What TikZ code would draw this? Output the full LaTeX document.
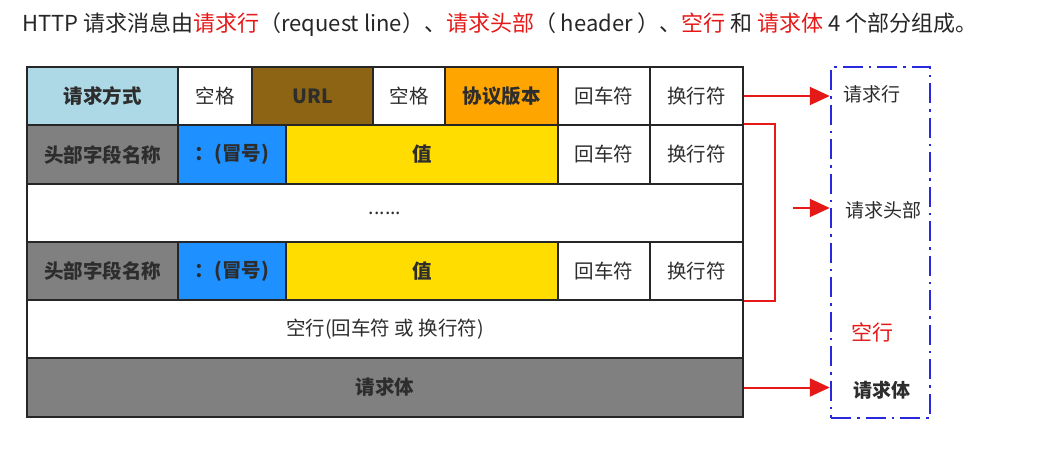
\documentclass[tikz,border=0pt]{standalone}
\usepackage{fontspec}
\setmainfont{Noto Sans CJK SC}
\usetikzlibrary{arrows.meta}
\definecolor{cLblue}{RGB}{173,216,230}
\definecolor{cBrown}{RGB}{140,100,20}
\definecolor{cOrange}{RGB}{255,165,0}
\definecolor{cGrey}{RGB}{128,128,128}
\definecolor{cBlue}{RGB}{30,144,255}
\definecolor{cYellow}{RGB}{255,221,0}
\definecolor{cRed}{RGB}{230,25,25}
\definecolor{cBox}{RGB}{40,40,220}
\definecolor{cText}{RGB}{45,45,45}
\newcommand\mkcell[7]{%
  \node[cell, fill=#6, minimum width={(#4)-(#2)}, minimum height={(#5)-(#3)}]
    (#1) at ({((#2)+(#4))/2},{((#3)+(#5))/2}) {#7};}
\begin{document}
\begin{tikzpicture}[x=1pt,y=-1pt,
  cell/.style={draw=black!85, line width=1.6pt, inner sep=0pt, text=cText,
    font=\fontsize{19.5}{22}\selectfont},
  arr/.style={draw=cRed, line width=2pt, -{Triangle[length=20pt,width=18pt]}},
  bracketline/.style={draw=cRed, line width=2pt},
  dashbox/.style={draw=cBox, line width=2.4pt,
    dash pattern=on 20pt off 6pt on 2.5pt off 6pt},
  lbl/.style={text=cText, font=\fontsize{19}{22}\selectfont, inner sep=0pt},
  title/.style={font=\fontsize{22}{26}\selectfont, inner sep=0pt, text=black!85}]
\useasboundingbox (0,0) rectangle (1051,464);
\fill[white] (0,0) rectangle (1051,464);
% title
\node[title, anchor=base west] (ttl) at (22,31)
  {HTTP 请求消息由\textcolor{cRed}{请求行}（request line）、\textcolor{cRed}{请求头部}（ header ）、\textcolor{cRed}{空行} 和 \textcolor{cRed}{请求体} 4 个部分组成。};
% row 1
\mkcell{ra}{27}{67}{178}{125}{cLblue}{\bfseries 请求方式}
\mkcell{rb}{178}{67}{252}{125}{white}{空格}
\mkcell{rc}{252}{67}{373}{125}{cBrown}{\bfseries URL}
\mkcell{rd}{373}{67}{445}{125}{white}{空格}
\mkcell{re}{445}{67}{558}{125}{cOrange}{\bfseries 协议版本}
\mkcell{rf}{558}{67}{650}{125}{white}{回车符}
\mkcell{rg}{650}{67}{743}{125}{white}{换行符}
% row 2
\mkcell{ha}{27}{125}{178}{184}{cGrey}{\bfseries 头部字段名称}
\mkcell{hb}{178}{125}{286}{184}{cBlue}{\bfseries ：(冒号)}
\mkcell{hc}{286}{125}{558}{184}{cYellow}{\bfseries 值}
\mkcell{hd}{558}{125}{650}{184}{white}{回车符}
\mkcell{he}{650}{125}{743}{184}{white}{换行符}
% row 3
\mkcell{dots}{27}{184}{743}{242}{white}{......}
% row 4
\mkcell{ka}{27}{242}{178}{300}{cGrey}{\bfseries 头部字段名称}
\mkcell{kb}{178}{242}{286}{300}{cBlue}{\bfseries ：(冒号)}
\mkcell{kc}{286}{242}{558}{300}{cYellow}{\bfseries 值}
\mkcell{kd}{558}{242}{650}{300}{white}{回车符}
\mkcell{ke}{650}{242}{743}{300}{white}{换行符}
% row 5
\mkcell{blank}{27}{300}{743}{358}{white}{空行(回车符 或 换行符)}
% row 6
\mkcell{body}{27}{358}{743}{417}{cGrey}{\bfseries 请求体}
% right dashed box
\node[dashbox, minimum width=99pt, minimum height=351pt, inner sep=0pt]
  (box) at (880.5,242.5) {};
\node[lbl] (l1) at (872,94) {请求行};
\node[lbl] (l2) at (883,210) {请求头部};
\node[lbl, text=cRed, font=\fontsize{21}{24}\selectfont] (l3) at (872,332) {空行};
\node[lbl, font=\fontsize{19}{22}\selectfont\bfseries] (l4) at (882,390) {请求体};
% connectors
\draw[arr] (rg.east) -- (rg.east -| box.west);
\draw[bracketline] (he.north east) -- ++(31,0) |- (ke.south east);
\coordinate (a2s) at (793,208);
\draw[arr] (a2s) -- (a2s -| box.west);
\draw[arr] (body.east) -- (body.east -| box.west);
\end{tikzpicture}
\end{document}
